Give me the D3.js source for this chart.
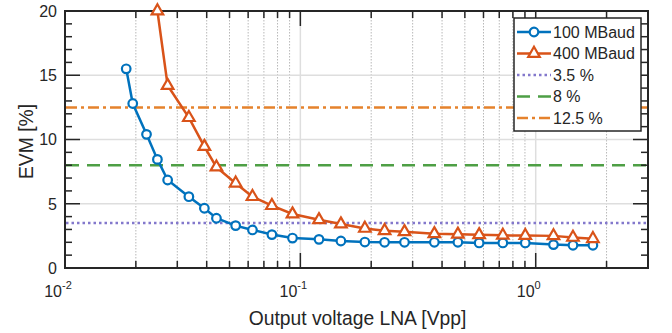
<!DOCTYPE html>
<html>
<head>
<meta charset="utf-8">
<script src="https://cdn.jsdelivr.net/npm/d3@7"></script>
<style>
  body { margin: 0; background: #fff; }
  text { font-family: "Liberation Sans", Arial, sans-serif; fill: #262626; }
</style>
</head>
<body>
<svg id="chart" width="672" height="333"></svg>
<script>
// Data
const vpp100 = [0.0182, 0.0194, 0.0222, 0.0247, 0.0273, 0.0336, 0.0391, 0.044, 0.0531, 0.0626, 0.0757, 0.0926,
  0.120, 0.1487, 0.188, 0.228, 0.277, 0.371, 0.467, 0.575, 0.725, 0.903, 1.19, 1.44, 1.75]
const evm100 = [15.5, 12.8, 10.4, 8.45, 6.85, 5.55, 4.65, 3.87, 3.3, 2.96, 2.6, 2.33,
  2.23, 2.1, 2.02, 2.0, 2.0, 2.0, 2.0, 1.95, 1.95, 1.95, 1.82, 1.77, 1.77]
const vpp400 = [0.0247, 0.0273, 0.0336, 0.0391, 0.044, 0.0531, 0.0626, 0.0757, 0.0926,
  0.120, 0.1487, 0.188, 0.228, 0.277, 0.371, 0.467, 0.575, 0.725, 0.903, 1.19, 1.44, 1.75]
const evm400 = [20, 14.2, 11.7, 9.45, 7.85, 6.6, 5.55, 4.85, 4.2,
  3.75, 3.42, 3.08, 2.9, 2.82, 2.66, 2.62, 2.58, 2.54, 2.52, 2.5, 2.38, 2.28]
const thresholds = [3.5, 8, 12.5]
const legendLabels = ['100 MBaud', '400 MBaud', '3.5 %', '8 %', '12.5 %']
const xMajor = [0.01, 0.1, 1]
const xExp = ['-2', '-1', '0']
const yMajor = [0, 5, 10, 15, 20]

const blue = '#0072BD'
const red = '#D95319'
const refStyles = [
  { color: '#8378CC', dash: '2.5,3' },
  { color: '#4E9F45', dash: '13,8' },
  { color: '#E5822C', dash: '11,4,3,4' }
]

const m = { left: 65, right: 648, top: 11, bottom: 268 }
const svg = d3.select('#chart')

const x = d3.scaleLog().domain([0.01, 3]).range([m.left, m.right])
const y = d3.scaleLinear().domain([0, 20]).range([m.bottom, m.top])

// minor positions
let xMinor = []
for (const dec of [0.01, 0.1, 1]) {
  for (let k = 2; k <= 9; k++) {
    const v = dec * k
    if (v <= 3) xMinor.push(v)
  }
}
const yMinor = d3.range(0, 21).filter(d => d % 5 !== 0)

// grid
const grid = svg.append('g')
grid.selectAll('line.vminor')
  .data(xMinor.filter(d => d < 3))
  .join('line')
    .attr('x1', d => x(d)).attr('x2', d => x(d))
    .attr('y1', m.top).attr('y2', m.bottom)
    .attr('stroke', '#b8b8b8').attr('stroke-width', 1)
    .attr('stroke-dasharray', '1.5,1.5')
grid.selectAll('line.vmajor')
  .data([0.1, 1])
  .join('line')
    .attr('x1', d => x(d)).attr('x2', d => x(d))
    .attr('y1', m.top).attr('y2', m.bottom)
    .attr('stroke', '#dedede').attr('stroke-width', 1.5)
grid.selectAll('line.hmajor')
  .data([5, 10, 15])
  .join('line')
    .attr('x1', m.left).attr('x2', m.right)
    .attr('y1', d => y(d)).attr('y2', d => y(d))
    .attr('stroke', '#dedede').attr('stroke-width', 1.5)

// reference lines
svg.append('g').selectAll('line')
  .data(thresholds)
  .join('line')
    .attr('x1', m.left + 1).attr('x2', m.right - 1)
    .attr('y1', d => y(d)).attr('y2', d => y(d))
    .attr('stroke', (d, i) => refStyles[i].color)
    .attr('stroke-width', 2.5)
    .attr('stroke-dasharray', (d, i) => refStyles[i].dash)

// ticks, inward, on all four sides
const axisCol = '#262626'
const ticks = svg.append('g').attr('stroke', axisCol)
const xt = xMajor.map(d => ({ v: d, len: 15 })).concat(xMinor.map(d => ({ v: d, len: 7 })))
for (const side of ['bottom', 'top']) {
  const y0 = side === 'bottom' ? m.bottom : m.top
  const s = side === 'bottom' ? -1 : 1
  ticks.selectAll(null)
    .data(xt)
    .join('line')
      .attr('x1', d => x(d.v)).attr('x2', d => x(d.v))
      .attr('y1', y0).attr('y2', d => y0 + s * d.len)
      .attr('stroke-width', 1.5)
}
const yt = yMajor.map(d => ({ v: d, len: 15 })).concat(yMinor.map(d => ({ v: d, len: 7 })))
for (const side of ['left', 'right']) {
  const x0 = side === 'left' ? m.left : m.right
  const s = side === 'left' ? 1 : -1
  ticks.selectAll(null)
    .data(yt)
    .join('line')
      .attr('x1', x0).attr('x2', d => x0 + s * d.len)
      .attr('y1', d => y(d.v)).attr('y2', d => y(d.v))
      .attr('stroke-width', 1.5)
}

// box
svg.append('rect')
  .attr('x', m.left).attr('y', m.top)
  .attr('width', m.right - m.left).attr('height', m.bottom - m.top)
  .attr('fill', 'none').attr('stroke', axisCol).attr('stroke-width', 2)

// tick labels
svg.append('g').selectAll('text')
  .data(yMajor)
  .join('text')
    .attr('x', m.left - 8).attr('y', d => y(d))
    .attr('dy', '0.36em')
    .attr('text-anchor', 'end')
    .attr('font-size', 16)
    .text(d => d)
const xl = svg.append('g').selectAll('text')
  .data(xMajor)
  .join('text')
    .attr('x', (d, i) => x(d) - 7).attr('y', 297)
    .attr('text-anchor', 'middle')
    .attr('font-size', 16)
xl.append('tspan').text('10')
xl.append('tspan').attr('dy', -8).attr('font-size', 11).text((d, i) => xExp[i])

// axis labels
svg.append('text')
  .attr('x', (m.left + m.right) / 2 + 1).attr('y', 325)
  .attr('text-anchor', 'middle').attr('font-size', 19.3)
  .text('Output voltage LNA [Vpp]')
svg.append('text')
  .attr('transform', `translate(33,${(m.top + m.bottom) / 2 + 2}) rotate(-90)`)
  .attr('text-anchor', 'middle').attr('font-size', 19.3)
  .text('EVM [%]')

// series
const line = d3.line().x(d => x(d[0])).y(d => y(d[1]))
const s100 = d3.zip(vpp100, evm100)
const s400 = d3.zip(vpp400, evm400)
svg.append('path').datum(s100).attr('d', line)
  .attr('fill', 'none').attr('stroke', blue).attr('stroke-width', 2.5)
svg.append('path').datum(s400).attr('d', line)
  .attr('fill', 'none').attr('stroke', red).attr('stroke-width', 2.5)

const tri = d3.symbol().type(d3.symbolTriangle).size(58)
svg.append('g').selectAll('circle')
  .data(s100)
  .join('circle')
    .attr('cx', d => x(d[0])).attr('cy', d => y(d[1])).attr('r', 4.3)
    .attr('fill', '#fff').attr('stroke', blue).attr('stroke-width', 2.2)
svg.append('g').selectAll('path')
  .data(s400)
  .join('path')
    .attr('transform', d => `translate(${x(d[0])},${y(d[1])})`)
    .attr('d', tri)
    .attr('fill', '#fff').attr('stroke', red).attr('stroke-width', 2.2)

// legend
const lg = svg.append('g').attr('transform', 'translate(514,18)')
lg.append('rect').attr('width', 127).attr('height', 113)
  .attr('fill', '#fff').attr('stroke', axisCol).attr('stroke-width', 1.5)
const rowY = i => 14 + i * 21.5
legendLabels.forEach((lab, i) => {
  const g = lg.append('g').attr('transform', `translate(0,${rowY(i)})`)
  const col = i === 0 ? blue : i === 1 ? red : refStyles[i - 2].color
  g.append('line').attr('x1', 3).attr('x2', 37).attr('y1', 0).attr('y2', 0)
    .attr('stroke', col).attr('stroke-width', 2.5)
    .attr('stroke-dasharray', i < 2 ? null : refStyles[i - 2].dash)
  if (i === 0) {
    g.append('circle').attr('cx', 20).attr('r', 4.3)
      .attr('fill', '#fff').attr('stroke', blue).attr('stroke-width', 2.2)
  } else if (i === 1) {
    g.append('path').attr('transform', 'translate(20,0)').attr('d', tri)
      .attr('fill', '#fff').attr('stroke', red).attr('stroke-width', 2.2)
  }
  g.append('text').attr('x', 39).attr('y', 0).attr('dy', '0.36em')
    .attr('font-size', 16).text(lab)
})
</script>
</body>
</html>
